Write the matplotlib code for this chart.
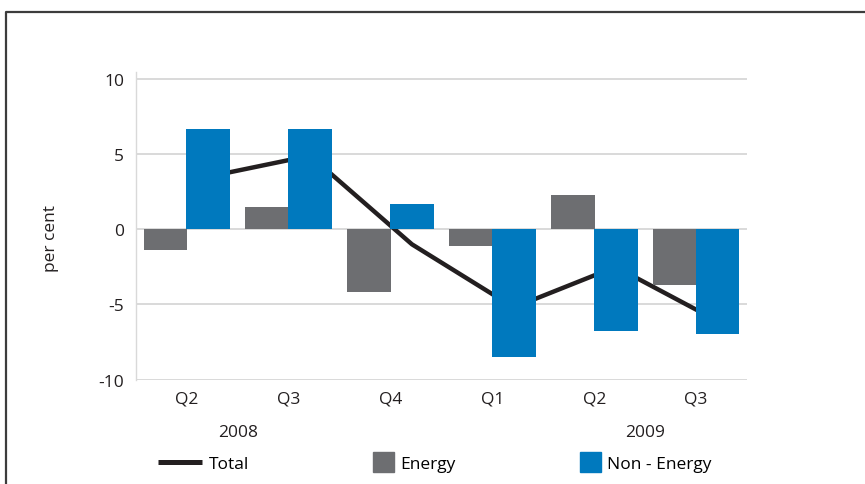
import numpy as np
import matplotlib
matplotlib.use('Agg')
import matplotlib.pyplot as plt
import matplotlib.patches as mpatches
from matplotlib.lines import Line2D
from matplotlib.legend_handler import HandlerPatch

plt.rcParams['font.family'] = ['Open Sans', 'DejaVu Sans']
plt.rcParams['axes.unicode_minus'] = False

quarters = ['Q2', 'Q3', 'Q4', 'Q1', 'Q2', 'Q3']
years = ['2008', '2009']
energy = [-1.4, 1.5, -4.2, -1.1, 2.3, -3.7]
non_energy = [6.7, 6.7, 1.7, -8.5, -6.8, -7.0]
total = [3.5, 4.9, -1.0, -5.2, -2.5, -6.1]

grey = '#6d6e71'
blue = '#0079be'
grid_col = '#d9d9d9'
fsize = 12.5


def square_patch(legend, orig_handle, xdescent, ydescent, width, height, fontsize):
    size = 15.1
    return mpatches.Rectangle(
        (-xdescent + width - size, -ydescent + height / 2 - size / 2), size, size
    )


fig = plt.figure(figsize=(8.65, 4.85), dpi=100)
ax = fig.add_axes([0.1572, 0.2144, 0.7064, 0.6361])

x = np.arange(len(quarters))
ax.plot(x + 0.21, total, color='#231f20', lw=3.2, zorder=2, solid_capstyle='butt')
ax.bar(x - 0.21, energy, width=0.43, color=grey, zorder=3)
ax.bar(x + 0.21, non_energy, width=0.43, color=blue, zorder=3)

ax.set_xlim(-0.5, len(quarters) - 0.5)
ax.set_ylim(-10.03, 10.5)
ax.set_yticks([-10, -5, 0, 5, 10])
ax.set_xticks(x)
ax.set_xticklabels(quarters)
ax.yaxis.grid(True, color=grid_col, lw=1.4)
ax.set_axisbelow(True)
ax.tick_params(axis='both', length=0, labelsize=fsize, colors='#231f20')
ax.tick_params(axis='y', pad=8.6)
ax.tick_params(axis='x', pad=7.5)
for side in ['top', 'right', 'bottom']:
    ax.spines[side].set_visible(False)
ax.spines['left'].set_color(grid_col)
ax.spines['left'].set_linewidth(1.0)

# year labels under the quarters
for xpos, yr in zip([0.5, 4.5], years):
    ax.text(xpos, -0.168, yr, transform=ax.get_xaxis_transform(),
            ha='center', va='center', fontsize=fsize, color='#231f20')

fig.text(51 / 865, 1 - 239 / 485, 'per cent', rotation=90, ha='center',
         va='center', fontsize=fsize, color='#231f20')

handles = [
    Line2D([], [], color='#231f20', lw=3.6, solid_capstyle='butt'),
    mpatches.Patch(color=grey),
    mpatches.Patch(color=blue),
]
fig.legend(handles, ['Total', 'Energy', 'Non - Energy'], ncol=3,
           loc='center left', bbox_to_anchor=(149.8 / 865, 1 - 465 / 485),
           frameon=False, fontsize=fsize, borderpad=0, handlelength=2.53,
           handletextpad=0.35, columnspacing=5.85,
           handler_map={mpatches.Patch: HandlerPatch(patch_func=square_patch)})

# frame around the figure (top and left edges visible)
fig.add_artist(Line2D([6 / 865, 6 / 865, 1.01], [-0.01, 1 - 13 / 485, 1 - 13 / 485],
                      color='#3c3c3c', lw=1.6, transform=fig.transFigure))

fig.savefig('out.png', dpi=100)
